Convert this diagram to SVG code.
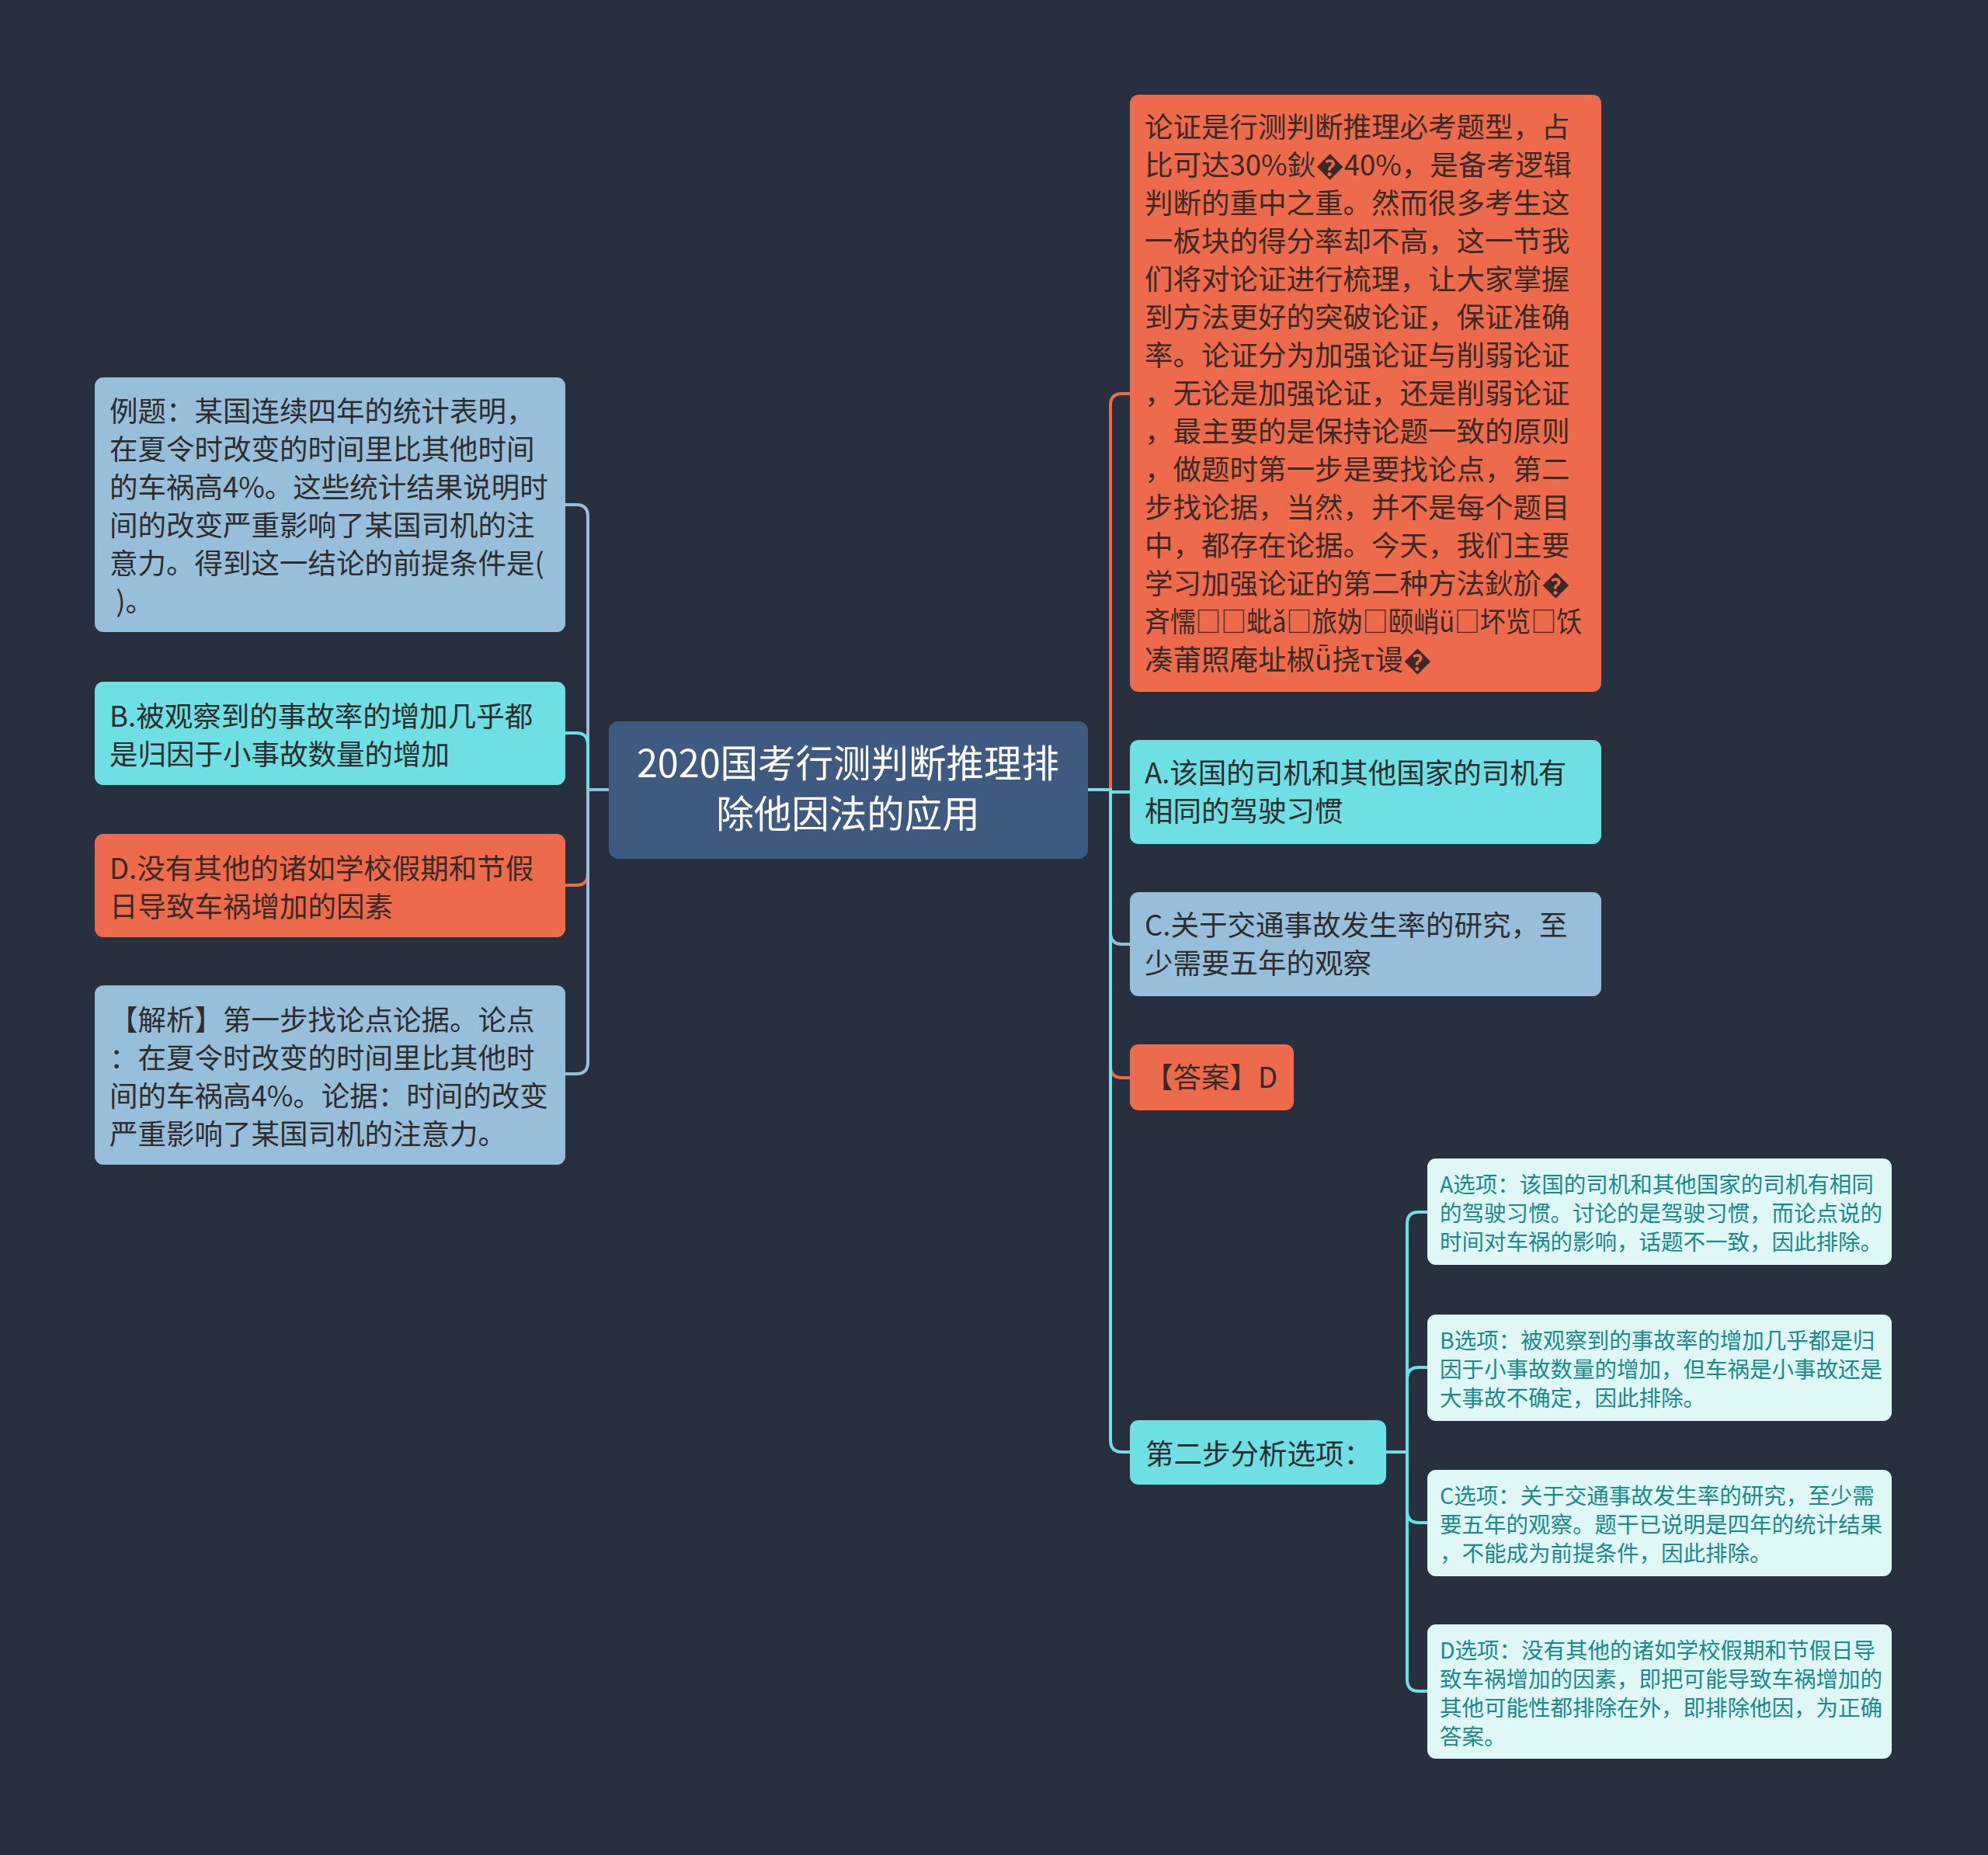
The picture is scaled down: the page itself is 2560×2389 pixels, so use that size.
<svg xmlns="http://www.w3.org/2000/svg" width="2560" height="2389" viewBox="0 0 2560 2389">
<style>
text{font-family:"Noto Sans CJK SC","Noto Sans",sans-serif;}
.t{font-size:36.5px;fill:#2d2d2d;}
.to{font-size:36.5px;fill:#3a2a26;}
.tm{font-size:48.5px;fill:#ffffff;text-anchor:middle;}
.ts{font-size:28.5px;fill:#198a8c;}
.c{fill:none;stroke-width:4;stroke-linecap:round;}
.lb{stroke:#97bfda;}
.cy{stroke:#6ee0e4;}
.or{stroke:#ee6a4d;}
</style>
<rect x="0" y="0" width="2560" height="2389" fill="#282f3e"/>
<g id="connectors">
<path class="c lb" d="M784 1017 H757 V665 Q757 650 742 650 H728"/>
<path class="c cy" d="M784 1017 H757 V959 Q757 944 742 944 H728"/>
<path class="c or" d="M784 1017 H757 V1125 Q757 1140 742 1140 H728"/>
<path class="c lb" d="M784 1017 H757 V1368 Q757 1383 742 1383 H728"/>
<path class="c lb" d="M784 1017 H757"/>
<path class="c or" d="M1401 1017 H1430 V522 Q1430 507 1445 507 H1455"/>
<path class="c cy" d="M1401 1017 H1430 V1020 H1455"/>
<path class="c lb" d="M1401 1017 H1430 V1201 Q1430 1216 1445 1216 H1455"/>
<path class="c or" d="M1401 1017 H1430 V1373 Q1430 1388 1445 1388 H1455"/>
<path class="c cy" d="M1401 1017 H1430 V1855 Q1430 1870 1445 1870 H1455"/>
<path class="c cy" d="M1785 1870 H1812 V1576 Q1812 1561 1827 1561 H1838"/>
<path class="c cy" d="M1785 1870 H1812 V1776 Q1812 1761 1827 1761 H1838"/>
<path class="c cy" d="M1785 1870 H1812 V1946 Q1812 1961 1827 1961 H1838"/>
<path class="c cy" d="M1785 1870 H1812 V2163 Q1812 2178 1827 2178 H1838"/>
</g>
<g id="main">
<rect x="784" y="929" width="617" height="177" rx="12" fill="#3e5a80"/>
<text class="tm"><tspan x="1092" y="1001">2020国考行测判断推理排</tspan><tspan x="1092" y="1066">除他因法的应用</tspan></text>
</g>
<g id="example">
<rect x="122" y="486" width="606" height="328" rx="11" fill="#97bfda"/>
<text class="t"><tspan x="141" y="543">例题：某国连续四年的统计表明，</tspan><tspan x="141" y="592">在夏令时改变的时间里比其他时间</tspan><tspan x="141" y="641">的车祸高4%。这些统计结果说明时</tspan><tspan x="141" y="690">间的改变严重影响了某国司机的注</tspan><tspan x="141" y="739">意力。得到这一结论的前提条件是(</tspan><tspan x="141" y="788"> )。</tspan></text>
</g>
<g id="optB">
<rect x="122" y="878" width="606" height="133" rx="11" fill="#6ee0e4"/>
<text class="t"><tspan x="141" y="936">B.被观察到的事故率的增加几乎都</tspan><tspan x="141" y="985">是归因于小事故数量的增加</tspan></text>
</g>
<g id="optD">
<rect x="122" y="1074" width="606" height="133" rx="11" fill="#ee6a4d"/>
<text class="to"><tspan x="141" y="1132">D.没有其他的诸如学校假期和节假</tspan><tspan x="141" y="1181">日导致车祸增加的因素</tspan></text>
</g>
<g id="analysis">
<rect x="122" y="1269" width="606" height="231" rx="11" fill="#97bfda"/>
<text class="t"><tspan x="141" y="1327">【解析】第一步找论点论据。论点</tspan><tspan x="141" y="1376">：在夏令时改变的时间里比其他时</tspan><tspan x="141" y="1425">间的车祸高4%。论据：时间的改变</tspan><tspan x="141" y="1474">严重影响了某国司机的注意力。</tspan></text>
</g>
<g id="intro">
<rect x="1455" y="122" width="607" height="769" rx="11" fill="#ee6a4d"/>
<text class="to"><tspan x="1474" y="177">论证是行测判断推理必考题型，占</tspan><tspan x="1474" y="226">比可达30%鈥�40%，是备考逻辑</tspan><tspan x="1474" y="275">判断的重中之重。然而很多考生这</tspan><tspan x="1474" y="324">一板块的得分率却不高，这一节我</tspan><tspan x="1474" y="373">们将对论证进行梳理，让大家掌握</tspan><tspan x="1474" y="422">到方法更好的突破论证，保证准确</tspan><tspan x="1474" y="471">率。论证分为加强论证与削弱论证</tspan><tspan x="1474" y="520">，无论是加强论证，还是削弱论证</tspan><tspan x="1474" y="569">，最主要的是保持论题一致的原则</tspan><tspan x="1474" y="618">，做题时第一步是要找论点，第二</tspan><tspan x="1474" y="667">步找论据，当然，并不是每个题目</tspan><tspan x="1474" y="716">中，都存在论据。今天，我们主要</tspan><tspan x="1474" y="765">学习加强论证的第二种方法鈥斺�</tspan></text>
<text class="to" x="1474" y="814" textLength="563" lengthAdjust="spacingAndGlyphs">斉懦□□蚍ǎ□旅妫□颐峭ü□坏览□饫</text>
<text class="to" x="1474" y="863">凑莆照庵址椒ǖ挠τ谩�</text>
</g>
<g id="optA">
<rect x="1455" y="953" width="607" height="134" rx="11" fill="#6ee0e4"/>
<text class="t"><tspan x="1474" y="1009">A.该国的司机和其他国家的司机有</tspan><tspan x="1474" y="1058">相同的驾驶习惯</tspan></text>
</g>
<g id="optC">
<rect x="1455" y="1149" width="607" height="134" rx="11" fill="#97bfda"/>
<text class="t"><tspan x="1474" y="1205">C.关于交通事故发生率的研究，至</tspan><tspan x="1474" y="1254">少需要五年的观察</tspan></text>
</g>
<g id="answer">
<rect x="1455" y="1345" width="211" height="85" rx="11" fill="#ee6a4d"/>
<text class="to" x="1474" y="1401">【答案】D</text>
</g>
<g id="step2">
<rect x="1455" y="1829" width="330" height="83" rx="11" fill="#6ee0e4"/>
<text class="t" x="1475" y="1886">第二步分析选项：</text>
</g>
<g id="subA">
<rect x="1838" y="1492" width="598" height="137" rx="11" fill="#e0f7f7"/>
<text class="ts"><tspan x="1854" y="1536">A选项：该国的司机和其他国家的司机有相同</tspan><tspan x="1854" y="1573">的驾驶习惯。讨论的是驾驶习惯，而论点说的</tspan><tspan x="1854" y="1610">时间对车祸的影响，话题不一致，因此排除。</tspan></text>
</g>
<g id="subB">
<rect x="1838" y="1693" width="598" height="137" rx="11" fill="#e0f7f7"/>
<text class="ts"><tspan x="1854" y="1737">B选项：被观察到的事故率的增加几乎都是归</tspan><tspan x="1854" y="1774">因于小事故数量的增加，但车祸是小事故还是</tspan><tspan x="1854" y="1811">大事故不确定，因此排除。</tspan></text>
</g>
<g id="subC">
<rect x="1838" y="1893" width="598" height="137" rx="11" fill="#e0f7f7"/>
<text class="ts"><tspan x="1854" y="1937">C选项：关于交通事故发生率的研究，至少需</tspan><tspan x="1854" y="1974">要五年的观察。题干已说明是四年的统计结果</tspan><tspan x="1854" y="2011">，不能成为前提条件，因此排除。</tspan></text>
</g>
<g id="subD">
<rect x="1838" y="2092" width="598" height="173" rx="11" fill="#e0f7f7"/>
<text class="ts"><tspan x="1854" y="2136">D选项：没有其他的诸如学校假期和节假日导</tspan><tspan x="1854" y="2173">致车祸增加的因素，即把可能导致车祸增加的</tspan><tspan x="1854" y="2210">其他可能性都排除在外，即排除他因，为正确</tspan><tspan x="1854" y="2247">答案。</tspan></text>
</g>
</svg>
